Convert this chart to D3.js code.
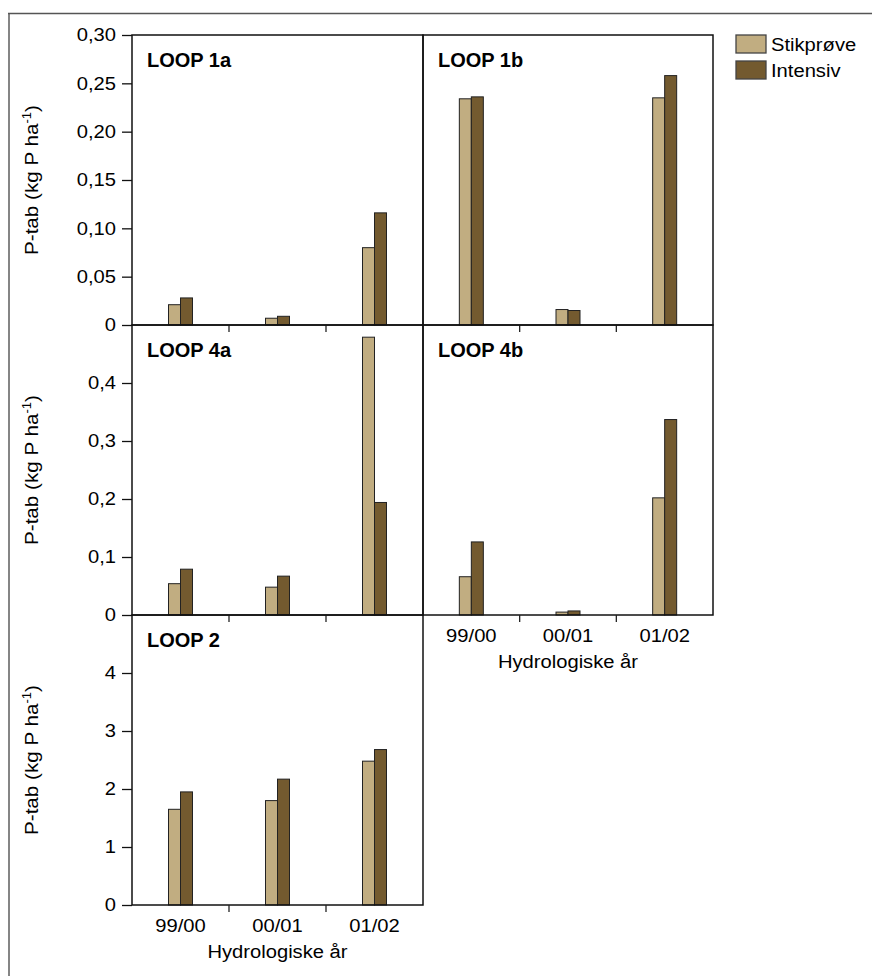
<!DOCTYPE html>
<html><head><meta charset="utf-8">
<script src="https://cdn.jsdelivr.net/npm/d3@7"></script>
<style>
html,body{margin:0;padding:0;background:#fff;}
text{font-family:"Liberation Sans",Arial,sans-serif;fill:#000;}
</style></head>
<body>
<svg id="chart" width="872" height="976"></svg>
<script>
// ---- data ----
const categories = ["99/00", "00/01", "01/02"];
const seriesNames = ["Stikprøve", "Intensiv"];
const loop1aStik = [0.021, 0.007, 0.080];
const loop1aInt  = [0.028, 0.009, 0.116];
const loop1bStik = [0.234, 0.016, 0.235];
const loop1bInt  = [0.236, 0.015, 0.258];
const loop4aStik = [0.054, 0.048, 0.479];
const loop4aInt  = [0.079, 0.067, 0.194];
const loop4bStik = [0.066, 0.005, 0.202];
const loop4bInt  = [0.126, 0.007, 0.337];
const loop2Stik  = [1.65, 1.80, 2.48];
const loop2Int   = [1.95, 2.17, 2.68];
const ticksRow1 = [0, 0.05, 0.10, 0.15, 0.20, 0.25, 0.30];
const ticksRow2 = [0, 0.1, 0.2, 0.3, 0.4];
const ticksRow3 = [0, 1, 2, 3, 4];
const yLabel = "P-tab (kg P ha";
const xLabel = "Hydrologiske år";

// ---- layout ----
const colors = ["#c1ad81", "#735a2f"];
const colX = [[132, 423], [423, 713]];
const rows = [
  {range: [325, 35],  domain: [0, 0.30], ticks: ticksRow1, fmt: v => v === 0 ? "0" : d3.format(".2f")(v).replace(".", ",")},
  {range: [615, 325], domain: [0, 0.5],  ticks: ticksRow2, fmt: v => v === 0 ? "0" : d3.format(".1f")(v).replace(".", ",")},
  {range: [905, 615], domain: [0, 5],    ticks: ticksRow3, fmt: v => String(v)}
];
const panels = [
  {name: "LOOP 1a", col: 0, row: 0, stik: loop1aStik, int: loop1aInt, yAxis: true,  xLabels: false},
  {name: "LOOP 1b", col: 1, row: 0, stik: loop1bStik, int: loop1bInt, yAxis: false, xLabels: false},
  {name: "LOOP 4a", col: 0, row: 1, stik: loop4aStik, int: loop4aInt, yAxis: true,  xLabels: false},
  {name: "LOOP 4b", col: 1, row: 1, stik: loop4bStik, int: loop4bInt, yAxis: false, xLabels: true},
  {name: "LOOP 2",  col: 0, row: 2, stik: loop2Stik,  int: loop2Int,  yAxis: true,  xLabels: true}
];

const svg = d3.select("#chart");
const STRETCH = 1.12;
const FS = 18;

// outer frame
svg.append("line").attr("x1", 9).attr("x2", 9).attr("y1", 13).attr("y2", 976)
  .attr("stroke", "#858585").attr("stroke-width", 2);
svg.append("line").attr("x1", 8).attr("x2", 872).attr("y1", 13.5).attr("y2", 13.5)
  .attr("stroke", "#555").attr("stroke-width", 1.3);

const stretchTexts = [];
const yLabelNodes = [];

panels.forEach(p => {
  const r = rows[p.row];
  const [x0r, x1r] = colX[p.col];
  const y = d3.scaleLinear().domain(r.domain).range(r.range);
  const x = d3.scaleBand().domain(categories).range([x0r, x1r]).padding(0);
  const xs = d3.scaleBand().domain(seriesNames).range([0, 24]);
  const g = svg.append("g");

  // bars
  const rowsData = categories.map((c, i) => ({c, vals: [p.stik[i], p.int[i]]}));
  rowsData.forEach(d => {
    const off = x(d.c) + (x.bandwidth() - 24) / 2;
    d.vals.forEach((v, j) => {
      g.append("rect")
        .attr("x", off + xs(seriesNames[j]))
        .attr("y", y(v))
        .attr("width", xs.bandwidth())
        .attr("height", y(0) - y(v))
        .attr("fill", colors[j])
        .attr("stroke", "#222").attr("stroke-width", 1);
    });
  });

  // frame
  g.append("rect")
    .attr("x", x0r).attr("y", r.range[1])
    .attr("width", x1r - x0r).attr("height", r.range[0] - r.range[1])
    .attr("fill", "none").attr("stroke", "#111").attr("stroke-width", 1.5);

  // x ticks (between categories)
  const xb = categories.slice(1).map(c => x(c));
  g.selectAll(".xt").data(xb).enter().append("line")
    .attr("x1", d => d).attr("x2", d => d)
    .attr("y1", r.range[0]).attr("y2", r.range[0] + 7)
    .attr("stroke", "#222").attr("stroke-width", 1.3);

  // y axis
  if (p.yAxis) {
    const ax = g.append("g").attr("transform", `translate(${x0r},0)`)
      .call(d3.axisLeft(y).tickValues(r.ticks).tickFormat(r.fmt).tickSize(10).tickPadding(6));
    ax.select(".domain").remove();
    ax.selectAll(".tick line").attr("stroke", "#111").attr("stroke-width", 1.3);
    ax.selectAll(".tick text").attr("font-size", FS).attr("font-family", "Liberation Sans, Arial, sans-serif").attr("fill", "#000")
      .each(function(){ stretchTexts.push(this); });
    const cy = (r.range[0] + r.range[1]) / 2;
    const t = g.append("text")
      .attr("transform", `translate(38,${cy}) rotate(-90)`)
      .attr("text-anchor", "middle").attr("font-size", 19);
    t.append("tspan").text(yLabel);
    t.append("tspan").attr("font-size", 12).attr("dy", -7).text("-1");
    t.append("tspan").attr("dy", 7).text(")");
    yLabelNodes.push(t.node());
  }

  // x labels
  if (p.xLabels) {
    const ax = g.append("g").attr("transform", `translate(0,${r.range[0]})`)
      .call(d3.axisBottom(x).tickSize(0).tickPadding(14));
    ax.select(".domain").remove();
    ax.selectAll(".tick text").attr("font-size", FS).attr("font-family", "Liberation Sans, Arial, sans-serif").attr("fill", "#000")
      .attr("dy", "0.71em").attr("y", 14)
      .each(function(){ stretchTexts.push(this); });
    const t = g.append("text")
      .attr("x", (x0r + x1r) / 2).attr("y", r.range[0] + 53)
      .attr("text-anchor", "middle").attr("font-size", FS).text(xLabel);
    stretchTexts.push(t.node());
  }

  // panel title
  g.append("text")
    .attr("x", x0r + 15).attr("y", r.range[1] + 32)
    .attr("font-size", 20).attr("font-weight", "bold").text(p.name);
});

// legend
const lg = svg.append("g");
seriesNames.forEach((s, i) => {
  lg.append("rect").attr("x", 736).attr("y", 35 + i * 26).attr("width", 30).attr("height", 18)
    .attr("fill", colors[i]).attr("stroke", "#444").attr("stroke-width", 1.3);
  const t = lg.append("text").attr("x", 771).attr("y", 51 + i * 26).attr("font-size", FS).text(s);
  stretchTexts.push(t.node());
});

// widen text horizontally to match the reference's wider lettering
stretchTexts.forEach(el => {
  const w = el.getComputedTextLength();
  el.setAttribute("textLength", (w * STRETCH).toFixed(1));
  el.setAttribute("lengthAdjust", "spacingAndGlyphs");
});
yLabelNodes.forEach(el => {
  const w = el.getComputedTextLength();
  el.setAttribute("textLength", Math.max(w, 150).toFixed(1));
  el.setAttribute("lengthAdjust", "spacingAndGlyphs");
});
</script>
</body></html>
